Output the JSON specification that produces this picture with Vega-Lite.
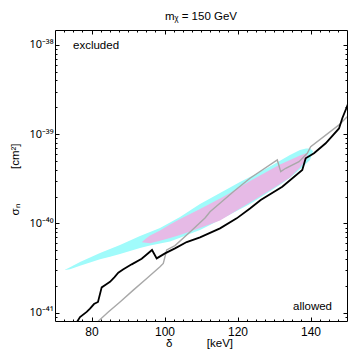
{
  "$schema": "https://vega.github.io/schema/vega-lite/v6.json",
  "width": 292,
  "height": 291,
  "autosize": {"type": "none"},
  "padding": {"left": 55, "top": 30, "right": 2, "bottom": 31},
  "background": "white",
  "title": {"text": "m\u1d6a = 150 GeV", "fontSize": 11.5, "font": "Liberation Sans", "fontWeight": "normal", "frame": "group", "anchor": "middle", "baseline": "alphabetic", "offset": -2, "color": "black"},
  "config": {
    "view": {"stroke": "black", "strokeWidth": 1},
    "axis": {"grid": false, "domain": false, "labelFont": "Liberation Sans", "titleFont": "Liberation Sans", "labelColor": "black", "titleColor": "black", "tickColor": "black", "labelFontSize": 12, "titleFontSize": 11.5, "titleFontWeight": "normal"}
  },
  "datasets": {
    "cyan": [
      {"delta": 72.74, "lo": 3.0e-41, "hi": 3.02e-41},
      {"delta": 74.11, "lo": 3.06e-41, "hi": 3.22e-41},
      {"delta": 76.85, "lo": 3.35e-41, "hi": 3.69e-41},
      {"delta": 79.59, "lo": 3.65e-41, "hi": 4.15e-41},
      {"delta": 82.33, "lo": 3.97e-41, "hi": 4.66e-41},
      {"delta": 85.07, "lo": 4.23e-41, "hi": 5.16e-41},
      {"delta": 87.81, "lo": 4.56e-41, "hi": 5.73e-41},
      {"delta": 90.55, "lo": 4.92e-41, "hi": 6.43e-41},
      {"delta": 93.29, "lo": 5.29e-41, "hi": 7.22e-41},
      {"delta": 96.03, "lo": 5.65e-41, "hi": 8.01e-41},
      {"delta": 98.77, "lo": 5.95e-41, "hi": 8.88e-41},
      {"delta": 101.51, "lo": 6.27e-41, "hi": 1.023e-40},
      {"delta": 104.25, "lo": 6.91e-41, "hi": 1.18e-40},
      {"delta": 106.99, "lo": 7.64e-41, "hi": 1.395e-40},
      {"delta": 109.73, "lo": 8.43e-41, "hi": 1.65e-40},
      {"delta": 112.47, "lo": 9.6e-41, "hi": 1.9e-40},
      {"delta": 115.21, "lo": 1.098e-40, "hi": 2.19e-40},
      {"delta": 117.95, "lo": 1.258e-40, "hi": 2.53e-40},
      {"delta": 120.68, "lo": 1.439e-40, "hi": 2.91e-40},
      {"delta": 123.42, "lo": 1.65e-40, "hi": 3.31e-40},
      {"delta": 126.16, "lo": 1.94e-40, "hi": 3.8e-40},
      {"delta": 128.9, "lo": 2.29e-40, "hi": 4.34e-40},
      {"delta": 131.64, "lo": 2.71e-40, "hi": 5.05e-40},
      {"delta": 134.38, "lo": 3.25e-40, "hi": 5.85e-40},
      {"delta": 137.12, "lo": 4.05e-40, "hi": 6.65e-40},
      {"delta": 138.77, "lo": 4.66e-40, "hi": 6.9e-40},
      {"delta": 139.86, "lo": 5.14e-40, "hi": 6.91e-40},
      {"delta": 140.68, "lo": 6.4e-40, "hi": 6.48e-40}
    ],
    "pink": [
      {"delta": 93.84, "lo": 6.15e-41, "hi": 6.19e-41},
      {"delta": 94.93, "lo": 6.06e-41, "hi": 6.77e-41},
      {"delta": 96.03, "lo": 5.98e-41, "hi": 7.31e-41},
      {"delta": 98.77, "lo": 6.38e-41, "hi": 8.33e-41},
      {"delta": 101.51, "lo": 6.86e-41, "hi": 9.72e-41},
      {"delta": 104.25, "lo": 7.41e-41, "hi": 1.12e-40},
      {"delta": 106.99, "lo": 8.12e-41, "hi": 1.275e-40},
      {"delta": 109.73, "lo": 8.88e-41, "hi": 1.45e-40},
      {"delta": 112.47, "lo": 9.77e-41, "hi": 1.66e-40},
      {"delta": 115.21, "lo": 1.078e-40, "hi": 1.9e-40},
      {"delta": 117.95, "lo": 1.258e-40, "hi": 2.19e-40},
      {"delta": 120.68, "lo": 1.47e-40, "hi": 2.56e-40},
      {"delta": 123.42, "lo": 1.715e-40, "hi": 2.99e-40},
      {"delta": 126.16, "lo": 2.01e-40, "hi": 3.44e-40},
      {"delta": 128.9, "lo": 2.35e-40, "hi": 3.97e-40},
      {"delta": 131.64, "lo": 2.77e-40, "hi": 4.58e-40},
      {"delta": 134.38, "lo": 3.27e-40, "hi": 5.14e-40},
      {"delta": 137.12, "lo": 4.23e-40, "hi": 5.77e-40},
      {"delta": 138.77, "lo": 5.14e-40, "hi": 6.11e-40},
      {"delta": 139.32, "lo": 5.65e-40, "hi": 5.7e-40}
    ],
    "black": [
      {"delta": 75.48, "sigma": 7.26e-42},
      {"delta": 76.85, "sigma": 8.93e-42},
      {"delta": 78.68, "sigma": 1.02e-41},
      {"delta": 79.59, "sigma": 1.11e-41},
      {"delta": 80.68, "sigma": 1.25e-41},
      {"delta": 81.78, "sigma": 1.32e-41},
      {"delta": 82.79, "sigma": 1.92e-41},
      {"delta": 83.97, "sigma": 2.07e-41},
      {"delta": 85.07, "sigma": 2.22e-41},
      {"delta": 86.25, "sigma": 2.49e-41},
      {"delta": 87.34, "sigma": 2.8e-41},
      {"delta": 88.63, "sigma": 3.04e-41},
      {"delta": 91.01, "sigma": 3.48e-41},
      {"delta": 93.75, "sigma": 4.02e-41},
      {"delta": 96.58, "sigma": 5.04e-41},
      {"delta": 97.86, "sigma": 4.06e-41},
      {"delta": 100.14, "sigma": 4.62e-41},
      {"delta": 102.88, "sigma": 5.26e-41},
      {"delta": 106.08, "sigma": 6.19e-41},
      {"delta": 109.73, "sigma": 6.98e-41},
      {"delta": 115.21, "sigma": 8.81e-41},
      {"delta": 119.78, "sigma": 1.14e-40},
      {"delta": 123.42, "sigma": 1.47e-40},
      {"delta": 126.36, "sigma": 1.83e-40},
      {"delta": 132.27, "sigma": 2.58e-40},
      {"delta": 137.75, "sigma": 3.97e-40},
      {"delta": 138.68, "sigma": 5.37e-40},
      {"delta": 140.96, "sigma": 6.11e-40},
      {"delta": 144.16, "sigma": 7.91e-40},
      {"delta": 147.81, "sigma": 1.16e-39},
      {"delta": 148.71, "sigma": 1.51e-39},
      {"delta": 149.81, "sigma": 1.95e-39},
      {"delta": 150.8, "sigma": 2.48e-39}
    ],
    "gray": [
      {"delta": 81.23, "sigma": 7.26e-42},
      {"delta": 81.86, "sigma": 8.05e-42},
      {"delta": 84.6, "sigma": 1.02e-41},
      {"delta": 87.81, "sigma": 1.32e-41},
      {"delta": 91.45, "sigma": 1.79e-41},
      {"delta": 95.12, "sigma": 2.42e-41},
      {"delta": 98.77, "sigma": 3.27e-41},
      {"delta": 99.67, "sigma": 3.57e-41},
      {"delta": 100.6, "sigma": 5.04e-41},
      {"delta": 102.88, "sigma": 5.65e-41},
      {"delta": 106.99, "sigma": 8.02e-41},
      {"delta": 111.1, "sigma": 1.15e-40},
      {"delta": 112.47, "sigma": 1.35e-40},
      {"delta": 115.67, "sigma": 1.75e-40},
      {"delta": 118.85, "sigma": 2.26e-40},
      {"delta": 123.42, "sigma": 3.21e-40},
      {"delta": 130.9, "sigma": 5.14e-40},
      {"delta": 131.84, "sigma": 3.8e-40},
      {"delta": 133.21, "sigma": 4.15e-40},
      {"delta": 136.85, "sigma": 4.92e-40},
      {"delta": 139.12, "sigma": 6.11e-40},
      {"delta": 140.05, "sigma": 7.24e-40},
      {"delta": 147.81, "sigma": 1.27e-39},
      {"delta": 149.64, "sigma": 1.51e-39},
      {"delta": 150.82, "sigma": 1.68e-39}
    ],
    "excluded": [{"delta": 74.93, "sigma": 9.62e-39, "label": "excluded"}],
    "allowed": [{"delta": 145.89, "sigma": 1.17e-41, "label": "allowed"}]
  },
  "resolve": {"axis": {"x": "independent", "y": "independent"}},
  "layer": [
    {
      "data": {"name": "cyan"},
      "mark": {"type": "area", "color": "#a0fbfb", "clip": true},
      "encoding": {
        "x": {"field": "delta", "type": "quantitative", "scale": {"domain": [70, 150], "nice": false, "zero": false},
          "axis": {"orient": "bottom", "values": [80, 100, 120, 140], "tickSize": -4, "labelPadding": 9, "title": "\u03b4\u2003\u2003\u2003[keV]", "titleX": 144, "titleY": 25, "titleBaseline": "alphabetic", "titleAlign": "center"}},
        "y": {"field": "lo", "type": "quantitative", "scale": {"type": "log", "domain": [8.07e-42, 1.47e-38], "nice": false},
          "axis": {"orient": "left", "values": [1e-41, 1e-40, 1e-39, 1e-38], "tickSize": -4, "labelPadding": 6, "labelFont": "Noto Sans", "labelFontSize": 11,
            "labelExpr": "datum.value < 3e-41 ? '10\u207b\u2074\u00b9' : datum.value < 3e-40 ? '10\u207b\u2074\u2070' : datum.value < 3e-39 ? '10\u207b\u00b3\u2079' : '10\u207b\u00b3\u2078'",
            "title": "\u03c3\u2099\u2003\u2003\u2003[cm\u00b2]", "titleX": -37, "titleY": 149, "titleAngle": 270, "titleBaseline": "alphabetic", "titleAlign": "center"}},
        "y2": {"field": "hi"}
      }
    },
    {
      "data": {"name": "pink"},
      "mark": {"type": "area", "color": "#e6bae6", "clip": true},
      "encoding": {
        "x": {"field": "delta", "type": "quantitative", "scale": {"domain": [70, 150], "nice": false, "zero": false},
          "axis": {"orient": "top", "values": [80, 100, 120, 140], "tickSize": -4, "labels": false, "title": null}},
        "y": {"field": "lo", "type": "quantitative", "scale": {"type": "log", "domain": [8.07e-42, 1.47e-38], "nice": false},
          "axis": {"orient": "right", "values": [1e-41, 1e-40, 1e-39, 1e-38], "tickSize": -4, "labels": false, "title": null}},
        "y2": {"field": "hi"}
      }
    },
    {
      "data": {"name": "gray"},
      "mark": {"type": "line", "color": "#a8a8a8", "strokeWidth": 1.4, "clip": true},
      "encoding": {
        "x": {"field": "delta", "type": "quantitative", "scale": {"domain": [70, 150], "nice": false, "zero": false},
          "axis": {"orient": "top", "values": [72.5, 75, 77.5, 82.5, 85, 87.5, 90, 92.5, 95, 97.5, 102.5, 105, 107.5, 110, 112.5, 115, 117.5, 122.5, 125, 127.5, 130, 132.5, 135, 137.5, 142.5, 145, 147.5], "tickSize": -2, "labels": false, "title": null}},
        "y": {"field": "sigma", "type": "quantitative", "scale": {"type": "log", "domain": [8.07e-42, 1.47e-38], "nice": false},
          "axis": {"orient": "right", "values": [9e-42, 2e-41, 3e-41, 4e-41, 5e-41, 6e-41, 7e-41, 8e-41, 9e-41, 2e-40, 3e-40, 4e-40, 5e-40, 6e-40, 7e-40, 8e-40, 9e-40, 2e-39, 3e-39, 4e-39, 5e-39, 6e-39, 7e-39, 8e-39, 9e-39], "tickSize": -2, "labels": false, "title": null}}
      }
    },
    {
      "data": {"name": "black"},
      "mark": {"type": "line", "color": "black", "strokeWidth": 1.8, "clip": true},
      "encoding": {
        "x": {"field": "delta", "type": "quantitative", "scale": {"domain": [70, 150], "nice": false, "zero": false},
          "axis": {"orient": "bottom", "values": [72.5, 75, 77.5, 82.5, 85, 87.5, 90, 92.5, 95, 97.5, 102.5, 105, 107.5, 110, 112.5, 115, 117.5, 122.5, 125, 127.5, 130, 132.5, 135, 137.5, 142.5, 145, 147.5], "tickSize": -2, "labels": false, "title": null}},
        "y": {"field": "sigma", "type": "quantitative", "scale": {"type": "log", "domain": [8.07e-42, 1.47e-38], "nice": false},
          "axis": {"orient": "left", "values": [9e-42, 2e-41, 3e-41, 4e-41, 5e-41, 6e-41, 7e-41, 8e-41, 9e-41, 2e-40, 3e-40, 4e-40, 5e-40, 6e-40, 7e-40, 8e-40, 9e-40, 2e-39, 3e-39, 4e-39, 5e-39, 6e-39, 7e-39, 8e-39, 9e-39], "tickSize": -2, "labels": false, "title": null}}
      }
    },
    {
      "data": {"name": "excluded"},
      "mark": {"type": "text", "align": "left", "baseline": "middle", "fontSize": 11.5, "font": "Liberation Sans", "color": "black"},
      "encoding": {
        "x": {"field": "delta", "type": "quantitative", "axis": null},
        "y": {"field": "sigma", "type": "quantitative", "axis": null},
        "text": {"field": "label"}
      }
    },
    {
      "data": {"name": "allowed"},
      "mark": {"type": "text", "align": "right", "baseline": "middle", "fontSize": 11.5, "font": "Liberation Sans", "color": "black"},
      "encoding": {
        "x": {"field": "delta", "type": "quantitative", "axis": null},
        "y": {"field": "sigma", "type": "quantitative", "axis": null},
        "text": {"field": "label"}
      }
    }
  ]
}
